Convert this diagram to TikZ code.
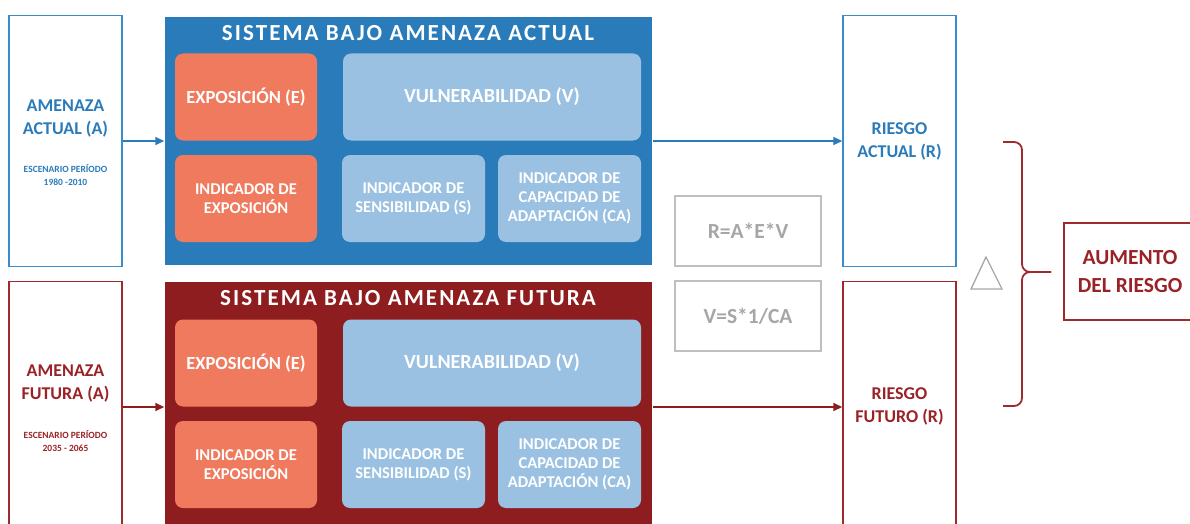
\documentclass[tikz,border=0pt]{standalone}
\usepackage{fontspec}
\setmainfont{Carlito}
\newfontfamily\titlefont[LetterSpace=9]{Carlito}
\usetikzlibrary{arrows.meta}
\definecolor{sysblue}{HTML}{2A7BBA}
\definecolor{sysred}{HTML}{8E1D1F}
\definecolor{blueline}{HTML}{3A8CCB}
\definecolor{redline}{HTML}{9E2A2E}
\definecolor{redtxt}{HTML}{9A2226}
\definecolor{lightblue}{HTML}{9AC1E2}
\definecolor{expo}{HTML}{EF7A5E}
\definecolor{formgray}{HTML}{BFBFBF}
\definecolor{formtxt}{HTML}{A6A6A6}

\begin{document}
\begin{tikzpicture}[x=1pt, y=-1pt, line width=1.5pt,
  frame/.style = {draw, minimum width=113pt, minimum height=251pt, inner sep=0pt},
  sys/.style = {minimum width=487pt, minimum height=248pt, inner sep=0pt},
  title/.style = {text=white, font=\titlefont\bfseries\fontsize{23}{24}\selectfont},
  cell/.style = {rounded corners=8pt, text=white, align=center, inner sep=0pt, minimum height=87pt, font=\bfseries\fontsize{16.5}{19}\selectfont},
  big/.style = {font=\bfseries\fontsize{18.5}{22}\selectfont},
  bigger/.style = {font=\bfseries\fontsize{20}{22}\selectfont},
  lbl/.style = {align=center, font=\bfseries\fontsize{18}{23}\selectfont},
  small/.style = {align=center, font=\bfseries\fontsize{9.5}{13}\selectfont},
  formula/.style = {draw=formgray, text=formtxt, minimum width=146pt, minimum height=70pt, font=\bfseries\fontsize{21.5}{24}\selectfont},
  arr/.style = {line width=1.8pt, -{Triangle[length=9pt, width=8pt]}},
  brace/.style = {draw=redline, line width=1.8pt, rounded corners=8pt}]
\useasboundingbox (0,0) rectangle (1190,524);

% escenario actual
\node[frame, draw=blueline] (aa) at (65.5,141) {};
\node[lbl, text=sysblue] (aat) at (65.5,118.5) {AMENAZA\\ACTUAL (A)};
\node[small, text=sysblue] (aas) at (65.5,175.5) {ESCENARIO PERÍODO\\1980 -2010};
\node[sys, fill=sysblue] (sa) at (408.5,141) {};
\node[title] (sat) at (408,33) {SISTEMA BAJO AMENAZA ACTUAL};
\node[cell, big, fill=expo, minimum width=142pt] (ea) at (246,97) {EXPOSICIÓN (E)};
\node[cell, bigger, fill=lightblue, minimum width=298pt] (va) at (492,97) {VULNERABILIDAD (V)};
\node[cell, fill=expo, minimum width=142pt] (iea) at (246,198.5) {INDICADOR DE\\EXPOSICIÓN};
\node[cell, fill=lightblue, minimum width=143pt] (isa) at (413.5,198.5) {INDICADOR DE\\SENSIBILIDAD (S)};
\node[cell, fill=lightblue, minimum width=143pt] (ica) at (569.5,198.5) {INDICADOR DE\\CAPACIDAD DE\\ADAPTACIÓN (CA)};
\node[frame, draw=blueline] (ra) at (899.5,141) {};
\node[lbl, text=sysblue] (rat) at (899.5,141) {RIESGO\\ACTUAL (R)};

% escenario futuro
\node[frame, draw=redline] (af) at (65.5,407) {};
\node[lbl, text=redtxt] (aft) at (65.5,384) {AMENAZA\\FUTURA (A)};
\node[small, text=redtxt] (afs) at (65.5,441) {ESCENARIO PERÍODO\\2035 - 2065};
\node[sys, fill=sysred, minimum height=250pt] (sf) at (408.5,407) {};
\node[title] (sft) at (408,298.5) {SISTEMA BAJO AMENAZA FUTURA};
\node[cell, big, fill=expo, minimum width=142pt] (ef) at (246,363) {EXPOSICIÓN (E)};
\node[cell, bigger, fill=lightblue, minimum width=298pt] (vf) at (492,363) {VULNERABILIDAD (V)};
\node[cell, fill=expo, minimum width=142pt] (ief) at (246,464.5) {INDICADOR DE\\EXPOSICIÓN};
\node[cell, fill=lightblue, minimum width=143pt] (isf) at (413.5,464.5) {INDICADOR DE\\SENSIBILIDAD (S)};
\node[cell, fill=lightblue, minimum width=143pt] (icf) at (569.5,464.5) {INDICADOR DE\\CAPACIDAD DE\\ADAPTACIÓN (CA)};
\node[frame, draw=redline] (rf) at (899.5,407) {};
\node[lbl, text=redtxt] (rft) at (899.5,406) {RIESGO\\FUTURO (R)};

% formulas
\node[formula] (fr) at (748,231) {R=A*E*V};
\node[formula] (fv) at (748,316) {V=S*1/CA};

\draw[arr, sysblue] (aa) -- (sa);
\draw[arr, sysblue] (sa) -- (ra);
\draw[arr, sysred] (af) -- (sf);
\draw[arr, sysred] (sf) -- (rf);

% delta y llave
\draw[formtxt, line width=1.3pt, line join=miter] (986,257) -- (1002,289) -- (971,289) -- cycle;
\draw[brace] (1003,142) -- (1022,142) -- (1022,272) -- (1051,272);
\draw[brace] (1003,406) -- (1022,406) -- (1022,272) -- (1051,272);
\node[draw=redline, text=redtxt, align=center, minimum width=132pt, minimum height=97pt, font=\bfseries\fontsize{21.5}{28}\selectfont] (au) at (1130,271.5) {AUMENTO\\DEL RIESGO};
\end{tikzpicture}
\end{document}
